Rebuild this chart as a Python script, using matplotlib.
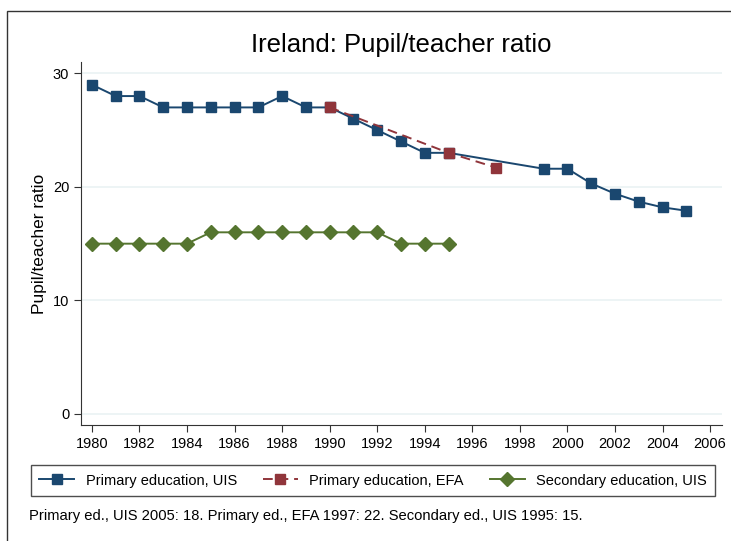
import matplotlib
matplotlib.use("Agg")
import matplotlib.pyplot as plt
from matplotlib.patches import Rectangle

plt.rcParams['font.family'] = ['Liberation Sans', 'DejaVu Sans']

years_uis = [1980, 1981, 1982, 1983, 1984, 1985, 1986, 1987, 1988, 1989, 1990,
             1991, 1992, 1993, 1994, 1995, 1999, 2000, 2001, 2002, 2003, 2004, 2005]
primary_uis = [29, 28, 28, 27, 27, 27, 27, 27, 28, 27, 27,
               26, 25, 24, 23, 23, 21.6, 21.6, 20.3, 19.4, 18.7, 18.2, 17.9]

years_efa = [1990, 1995, 1997]
primary_efa = [27, 23, 21.7]

years_sec = [1980, 1981, 1982, 1983, 1984, 1985, 1986, 1987, 1988, 1989, 1990,
             1991, 1992, 1993, 1994, 1995]
secondary_uis = [15, 15, 15, 15, 15, 16, 16, 16, 16, 16, 16, 16, 16, 15, 15, 15]

xticks = list(range(1980, 2007, 2))
yticks = [0, 10, 20, 30]

c_blue = '#1a476f'
c_red = '#90353b'
c_green = '#55752f'

fig = plt.figure(figsize=(7.31, 5.41), dpi=100)
# outer frame
fig.add_artist(Rectangle((6.5/731, -0.1), 2, 1 - 10.5/541 + 0.1, transform=fig.transFigure,
                         fill=False, edgecolor='#333333', linewidth=1.0))

ax = fig.add_axes([81/731, 1-425/541, (722-81)/731, (425-62)/541])
ax.set_xlim(1979.54, 2006.5)
ax.set_ylim(-0.97, 31.0)

for y in yticks:
    ax.axhline(y, color='#eaf2f3', linewidth=1.2, zorder=0)

ax.plot(years_uis, primary_uis, color=c_blue, marker='s', markersize=7,
        linewidth=1.4, label='Primary education, UIS', zorder=3)
ax.plot(years_efa, primary_efa, color=c_red, marker='s', markersize=7,
        linewidth=1.4, linestyle=(0, (5, 3)), label='Primary education, EFA', zorder=4)
ax.plot(years_sec, secondary_uis, color=c_green, marker='D', markersize=7,
        linewidth=1.4, label='Secondary education, UIS', zorder=3)

ax.set_xticks(xticks)
ax.set_yticks(yticks)
ax.tick_params(axis='both', labelsize=10.5, length=5, width=0.8, color='#333333')
ax.spines['top'].set_visible(False)
ax.spines['right'].set_visible(False)
ax.spines['left'].set_color('#333333')
ax.spines['bottom'].set_color('#333333')
ax.set_ylabel('Pupil/teacher ratio', fontsize=12.5, labelpad=4)

fig.text((250+552)/2/731, 1-52/541, 'Ireland: Pupil/teacher ratio', fontsize=18.5,
         ha='center', va='baseline')

leg = fig.legend(loc='center', ncol=3, mode='expand',
                 bbox_to_anchor=(31/731, 1-498/541, (715-31)/731, 35/541),
                 fontsize=10.5, frameon=True, fancybox=False, handlelength=2.4,
                 handletextpad=0.8, borderaxespad=0, borderpad=0.55)
leg.get_frame().set_edgecolor('#222222')
leg.get_frame().set_linewidth(1.0)

fig.text(29/731, 1-516/541,
         'Primary ed., UIS 2005: 18. Primary ed., EFA 1997: 22. Secondary ed., UIS 1995: 15.',
         fontsize=10.6, ha='left', va='center')

fig.savefig('out.png', dpi=100)
